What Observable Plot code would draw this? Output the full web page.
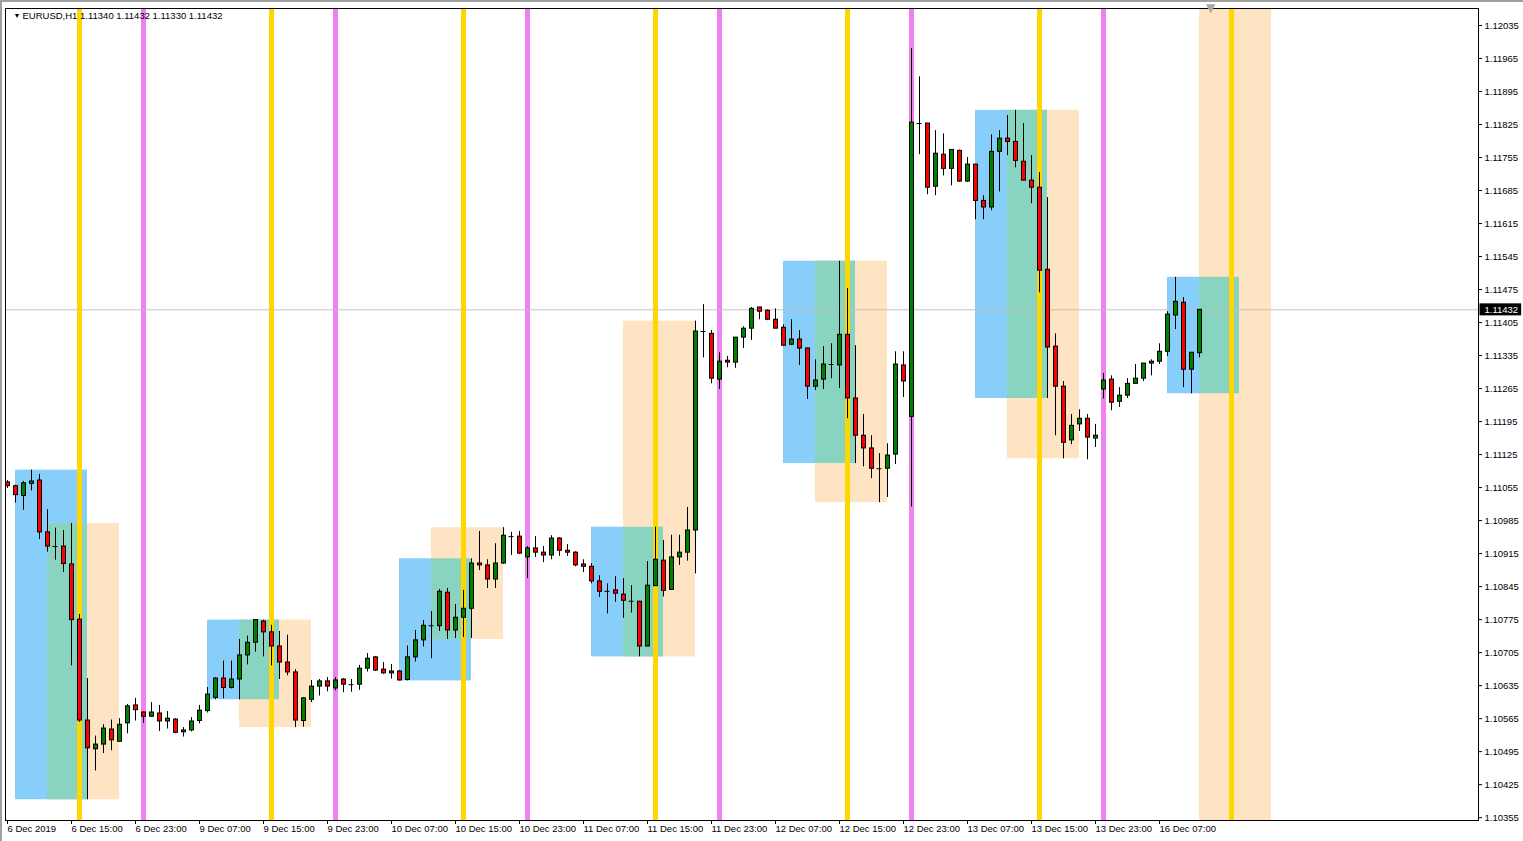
<!DOCTYPE html>
<html><head><meta charset="utf-8">
<script src="https://cdn.jsdelivr.net/npm/d3@7"></script>
<script src="https://cdn.jsdelivr.net/npm/@observablehq/plot@0.6"></script>
<style>
body{margin:0;background:#fff;}
#wrap{position:relative;width:1523px;height:841px;}
#chart svg{display:block;}
.edge-top{position:absolute;left:0;top:0;width:1523px;height:2px;background:#a0a0a0;}
.edge-left{position:absolute;left:0;top:0;width:2px;height:841px;background:#a0a0a0;}
</style>
</head><body><div id="wrap"><div id="chart"></div><div class="edge-top"></div><div class="edge-left"></div></div>
<script>
// ---- data (EURUSD H1, bar 0 = 6 Dec 2019 07:00) ----
const symbol = "EURUSD", timeframe = "H1";
const open = [1.11066,1.11058,1.11037,1.11063,1.11070,1.10960,1.10930,1.10930,1.10892,1.10775,
1.10561,1.10500,1.10510,1.10542,1.10516,1.10555,1.10593,1.10578,1.10569,1.10576,
1.10559,1.10563,1.10536,1.10540,1.10560,1.10581,1.10609,1.10650,1.10630,1.10648,
1.10699,1.10726,1.10771,1.10748,1.10718,1.10684,1.10663,1.10560,1.10605,1.10633,
1.10644,1.10629,1.10648,1.10637,1.10637,1.10671,1.10695,1.10669,1.10661,1.10665,
1.10647,1.10695,1.10731,1.10762,1.10761,1.10832,1.10752,1.10779,1.10798,1.10894,
1.10890,1.10860,1.10894,1.10951,1.10951,1.10907,1.10926,1.10917,1.10911,1.10947,
1.10921,1.10917,1.10892,1.10887,1.10856,1.10835,1.10837,1.10828,1.10814,1.10813,
1.10718,1.10846,1.10900,1.10838,1.10907,1.10917,1.10964,1.11386,1.11381,1.11284,
1.11324,1.11320,1.11373,1.11392,1.11437,1.11430,1.11411,1.11394,1.11358,1.11369,
1.11350,1.11269,1.11284,1.11316,1.11314,1.11379,1.11244,1.11165,1.11138,1.11095,
1.11095,1.11125,1.11314,1.11205,1.11827,1.11827,1.11693,1.11761,1.11731,1.11769,
1.11704,1.11740,1.11663,1.11649,1.11767,1.11795,1.11788,1.11746,1.11706,1.11691,
1.11517,1.11354,1.11269,1.11155,1.11189,1.11201,1.11159,1.11263,1.11284,1.11237,
1.11250,1.11275,1.11286,1.11318,1.11322,1.11343,1.11420,1.11447,1.11305,1.11340];
const high = [1.11070,1.11060,1.11068,1.11092,1.11083,1.11008,1.10969,1.10964,1.10979,1.10786,
1.10650,1.10528,1.10552,1.10562,1.10565,1.10595,1.10608,1.10579,1.10599,1.10593,
1.10580,1.10565,1.10546,1.10567,1.10593,1.10631,1.10652,1.10687,1.10687,1.10733,
1.10740,1.10775,1.10774,1.10763,1.10750,1.10742,1.10669,1.10610,1.10646,1.10648,
1.10652,1.10652,1.10650,1.10648,1.10678,1.10703,1.10697,1.10684,1.10680,1.10667,
1.10719,1.10752,1.10773,1.10792,1.10839,1.10841,1.10807,1.10837,1.10904,1.10962,
1.10902,1.10936,1.10970,1.10960,1.10962,1.10930,1.10951,1.10930,1.10953,1.10949,
1.10934,1.10919,1.10902,1.10894,1.10868,1.10851,1.10866,1.10862,1.10847,1.10814,
1.10898,1.10971,1.10943,1.10954,1.10954,1.11013,1.11408,1.11443,1.11388,1.11341,
1.11333,1.11373,1.11396,1.11437,1.11437,1.11432,1.11434,1.11400,1.11411,1.11388,
1.11351,1.11326,1.11354,1.11360,1.11535,1.11477,1.11356,1.11210,1.11165,1.11127,
1.11148,1.11343,1.11343,1.11986,1.11926,1.11827,1.11812,1.11805,1.11771,1.11771,
1.11755,1.11740,1.11674,1.11803,1.11812,1.11844,1.11855,1.11827,1.11759,1.11723,
1.11670,1.11381,1.11280,1.11210,1.11220,1.11210,1.11189,1.11297,1.11292,1.11267,
1.11286,1.11316,1.11318,1.11326,1.11360,1.11428,1.11501,1.11458,1.11341,1.11432];
const low = [1.11053,1.11022,1.11007,1.11048,1.10945,1.10918,1.10901,1.10875,1.10677,1.10557,
1.10393,1.10454,1.10491,1.10497,1.10515,1.10533,1.10560,1.10555,1.10568,1.10538,
1.10543,1.10533,1.10526,1.10537,1.10554,1.10577,1.10605,1.10607,1.10628,1.10605,
1.10679,1.10706,1.10696,1.10677,1.10648,1.10656,1.10546,1.10547,1.10599,1.10613,
1.10622,1.10624,1.10620,1.10621,1.10625,1.10664,1.10665,1.10659,1.10649,1.10645,
1.10645,1.10685,1.10717,1.10692,1.10750,1.10733,1.10735,1.10737,1.10735,1.10879,
1.10841,1.10841,1.10892,1.10911,1.10913,1.10862,1.10907,1.10896,1.10902,1.10909,
1.10909,1.10887,1.10875,1.10851,1.10822,1.10787,1.10812,1.10778,1.10789,1.10696,
1.10718,1.10846,1.10823,1.10838,1.10890,1.10899,1.10872,1.11330,1.11275,1.11263,
1.11309,1.11308,1.11350,1.11367,1.11411,1.11409,1.11392,1.11354,1.11356,1.11314,
1.11242,1.11261,1.11263,1.11286,1.11265,1.11201,1.11106,1.11099,1.11074,1.11023,
1.11034,1.11104,1.11246,1.11014,1.11761,1.11676,1.11674,1.11716,1.11695,1.11702,
1.11702,1.11623,1.11623,1.11642,1.11682,1.11759,1.11733,1.11706,1.11657,1.11468,
1.11244,1.11165,1.11116,1.11146,1.11174,1.11114,1.11140,1.11243,1.11218,1.11225,
1.11244,1.11275,1.11280,1.11292,1.11316,1.11333,1.11390,1.11267,1.11254,1.11330];
const close = [1.11058,1.11039,1.11064,1.11068,1.10960,1.10930,1.10930,1.10893,1.10774,1.10561,
1.10502,1.10510,1.10544,1.10519,1.10552,1.10591,1.10583,1.10569,1.10578,1.10559,
1.10565,1.10535,1.10540,1.10559,1.10582,1.10616,1.10650,1.10630,1.10648,1.10699,
1.10726,1.10774,1.10748,1.10718,1.10684,1.10663,1.10561,1.10608,1.10633,1.10644,
1.10633,1.10646,1.10637,1.10637,1.10671,1.10692,1.10667,1.10661,1.10665,1.10646,
1.10695,1.10731,1.10762,1.10762,1.10834,1.10752,1.10779,1.10798,1.10894,1.10890,
1.10860,1.10894,1.10953,1.10951,1.10915,1.10926,1.10917,1.10911,1.10947,1.10921,
1.10917,1.10890,1.10887,1.10856,1.10834,1.10835,1.10830,1.10815,1.10814,1.10718,
1.10847,1.10902,1.10836,1.10907,1.10917,1.10964,1.11386,1.11386,1.11286,1.11322,
1.11320,1.11373,1.11392,1.11434,1.11428,1.11411,1.11392,1.11356,1.11369,1.11350,
1.11269,1.11282,1.11316,1.11316,1.11379,1.11244,1.11165,1.11138,1.11095,1.11095,
1.11123,1.11316,1.11280,1.11829,1.11827,1.11691,1.11763,1.11731,1.11771,1.11704,
1.11740,1.11663,1.11649,1.11767,1.11795,1.11788,1.11748,1.11706,1.11691,1.11515,
1.11352,1.11269,1.11150,1.11186,1.11201,1.11161,1.11165,1.11282,1.11235,1.11250,
1.11275,1.11286,1.11318,1.11322,1.11343,1.11422,1.11449,1.11305,1.11341,1.11432];

// day start (00:00) as bar index; session boxes in hours
const dayStart = [-7, 17, 41, 65, 89, 113, 137];
const blueSession = [8, 17];
const peachSession = [12, 21];
const dayLineHour = 16;
const blueHigh  = [1.11092,1.10774,1.10904,1.10971,1.11535,1.11855,1.11501];
const blueLow   = [1.10393,1.10605,1.10645,1.10696,1.11106,1.11244,1.11254];
const peachHigh = [1.10979,1.10774,1.10970,1.11408,1.11535,1.11855,1.12500];
const peachLow  = [1.10393,1.10546,1.10733,1.10696,1.11023,1.11116,1.10000];

const xTickBars = [0,8,16,24,32,40,48,56,64,72,80,88,96,104,112,120,128,136,144];
const xTickLabels = ["6 Dec 2019","6 Dec 15:00","6 Dec 23:00","9 Dec 07:00","9 Dec 15:00","9 Dec 23:00",
"10 Dec 07:00","10 Dec 15:00","10 Dec 23:00","11 Dec 07:00","11 Dec 15:00","11 Dec 23:00",
"12 Dec 07:00","12 Dec 15:00","12 Dec 23:00","13 Dec 07:00","13 Dec 15:00","13 Dec 23:00","16 Dec 07:00"];
const yTicks = [1.10355,1.10425,1.10495,1.10565,1.10635,1.10705,1.10775,1.10845,1.10915,1.10985,
1.11055,1.11125,1.11195,1.11265,1.11335,1.11405,1.11475,1.11545,1.11615,1.11685,1.11755,1.11825,1.11895,1.11965,1.12035];

// ---- build tables ----
const bars = open.map((o, i) => ({i, open: o, high: high[i], low: low[i], close: close[i]}));
const bodies = bars.filter(d => Math.abs(d.close - d.open) >= 0.00002);
const dojis = bars.filter(d => Math.abs(d.close - d.open) < 0.00002);
const boxes = dayStart.map((d, k) => ({
  d, bh: blueHigh[k], bl: blueLow[k], ph: peachHigh[k], pl: peachLow[k]
}));
const last = bars[bars.length - 1];
const labelMap = new Map(xTickBars.map((b, k) => [b, xTickLabels[k]]));
const title = `${symbol},${timeframe} ${last.open.toFixed(5)} ${last.high.toFixed(5)} ${last.low.toFixed(5)} ${last.close.toFixed(5)}`;
const FS = 9.5;

const chart = Plot.plot({
  width: 1523, height: 841,
  marginLeft: 5, marginRight: 45, marginTop: 8, marginBottom: 21,
  style: {fontFamily: "'Liberation Sans', Arial, sans-serif", fontSize: FS + "px", color: "black", background: "white"},
  x: {domain: [-0.25, 183.875], label: null},
  y: {domain: [1.10349, 1.12071], label: null},
  marks: [
    Plot.rect(boxes, {x1: d => d.d + blueSession[0], x2: d => d.d + blueSession[1], y1: "bl", y2: "bh", fill: "#87CEFA", clip: true}),
    Plot.rect(boxes, {x1: d => d.d + peachSession[0], x2: d => d.d + peachSession[1], y1: "pl", y2: "ph", fill: "#FFE4C4", clip: true}),
    Plot.rect(boxes, {x1: d => d.d + peachSession[0], x2: d => d.d + blueSession[1],
      y1: d => Math.max(d.bl, d.pl), y2: d => Math.min(d.bh, d.ph), fill: "#88D4C0", clip: true}),
    Plot.ruleX(dayStart, {x: d => d, stroke: "#EE82EE", strokeWidth: 5, clip: true}),
    Plot.ruleX(dayStart, {x: d => d + dayLineHour, stroke: "#FFD700", strokeWidth: 5, clip: true}),
    Plot.ruleY([last.close], {stroke: "#C0C0C0"}),
    Plot.ruleX(bars, {x: "i", y1: "low", y2: "high", stroke: "black"}),
    Plot.rect(bodies, {x1: d => d.i - 0.25, x2: d => d.i + 0.25, y1: "open", y2: "close", dx: 0.5,
      fill: d => d.close > d.open ? "#008000" : "#FF0000", stroke: "black", strokeWidth: 1}),
    Plot.ruleY(dojis, {y: "open", x1: d => d.i - 0.3125, x2: d => d.i + 0.3125, stroke: "black"}),
    Plot.frame({stroke: "black"}),
    Plot.text(["\u25BC"], {x: [last.i + 1.4], frameAnchor: "top", dy: 0, fontSize: 12, fill: "#a8a8a8", lineAnchor: "middle",
      fontFamily: "'DejaVu Sans'"}),
    Plot.axisY(yTicks, {anchor: "right", tickSize: 3, tickPadding: 3, tickFormat: d => d.toFixed(5), fontSize: FS, label: null}),
    Plot.axisX(xTickBars, {anchor: "bottom", tickSize: 4, tickPadding: 1, tickFormat: d => labelMap.get(d), textAnchor: "start", fontSize: FS, label: null}),
    Plot.text(["\u25BC"], {frameAnchor: "top-left", dx: 8, dy: 7, fontSize: 7, textAnchor: "start", lineAnchor: "middle"}),
    Plot.text([title], {frameAnchor: "top-left", dx: 17, dy: 7, fontSize: FS, textAnchor: "start", lineAnchor: "middle"}),
    Plot.text([last.close], {y: d => d, frameAnchor: "right", dx: 6, textAnchor: "start", fill: "white", fontSize: FS,
      text: d => d.toFixed(5), className: "cur-price"})
  ]
});
document.getElementById("chart").append(chart);

// black background box behind the current price label
const t = chart.querySelector(".cur-price text");
if (t) {
  const b = t.getBBox();
  const r = document.createElementNS("http://www.w3.org/2000/svg", "rect");
  r.setAttribute("x", b.x - 5); r.setAttribute("y", b.y - 0.5);
  r.setAttribute("width", b.width + 8); r.setAttribute("height", b.height + 1);
  r.setAttribute("fill", "black");
  const tr = t.getAttribute("transform");
  if (tr) r.setAttribute("transform", tr);
  t.parentNode.insertBefore(r, t);
}
</script></body></html>
